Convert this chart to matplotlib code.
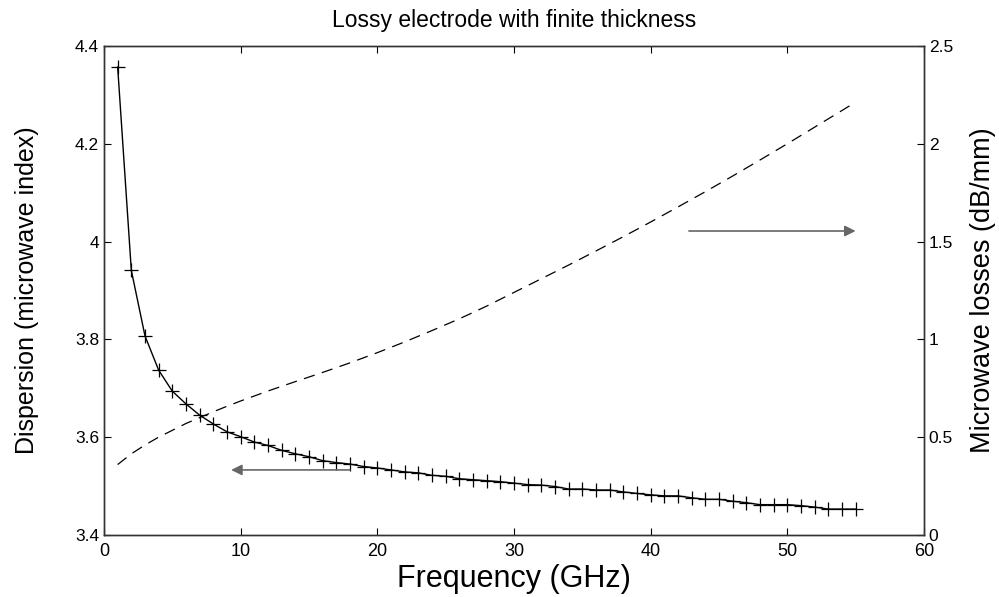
import numpy as np
import matplotlib
matplotlib.use('Agg')
import matplotlib.pyplot as plt
from matplotlib.ticker import FuncFormatter

plt.rcParams['font.family'] = ['Liberation Sans', 'DejaVu Sans']

# dispersion (microwave index), one point per GHz
freq = list(range(1, 56))
dispersion = [4.357, 3.941, 3.807, 3.737, 3.694, 3.668, 3.645, 3.627, 3.611, 3.601,
              3.590, 3.583, 3.573, 3.566, 3.560, 3.552, 3.548, 3.545, 3.540, 3.537,
              3.533, 3.529, 3.527, 3.522, 3.520, 3.515, 3.513, 3.511, 3.509, 3.506,
              3.503, 3.502, 3.499, 3.494, 3.494, 3.492, 3.492, 3.488, 3.485, 3.482,
              3.480, 3.480, 3.476, 3.473, 3.473, 3.469, 3.466, 3.462, 3.462, 3.462,
              3.460, 3.457, 3.453, 3.453, 3.453]

# microwave losses (dB/mm)
loss_freq = [1, 2, 3, 4, 5, 6, 7, 8, 9, 10, 12, 14, 16, 18, 20, 22, 24, 26, 28,
             30, 32, 34, 36, 38, 40, 42, 44, 46, 48, 50, 52, 54, 55]
losses = [0.36, 0.415, 0.46, 0.50, 0.535, 0.57, 0.60, 0.63, 0.658, 0.685, 0.736,
          0.784, 0.831, 0.88, 0.932, 0.987, 1.045, 1.105, 1.17, 1.24, 1.31, 1.38,
          1.452, 1.525, 1.60, 1.677, 1.755, 1.835, 1.917, 2.0, 2.085, 2.17, 2.213]

left_ticks = [3.4, 3.6, 3.8, 4.0, 4.2, 4.4]
right_ticks = [0, 0.5, 1, 1.5, 2, 2.5]
x_ticks = [0, 10, 20, 30, 40, 50, 60]

fig = plt.figure(figsize=(9.99, 5.97), dpi=100)
ax = fig.add_axes([0.1041, 0.1039, 0.8208, 0.8191])
ax2 = ax.twinx()

ax.plot(freq, dispersion, color='black', lw=1.0, marker='+', ms=10, mew=0.9)
ax2.plot(loss_freq, losses, color='black', lw=0.9, linestyle=(0, (9, 6)))

ax.set_xlim(0, 60)
ax.set_ylim(3.4, 4.4)
ax2.set_ylim(0, 2.5)
ax.set_xticks(x_ticks)
ax.set_yticks(left_ticks)
ax2.set_yticks(right_ticks)
fmt = FuncFormatter(lambda v, p: '%g' % v)
ax.yaxis.set_major_formatter(fmt)
ax2.yaxis.set_major_formatter(fmt)

ax.tick_params(axis='x', direction='in', top=True, length=5, labelsize=13, pad=6)
ax.tick_params(axis='y', direction='in', length=5, labelsize=12.5)
ax2.tick_params(axis='y', direction='in', length=5, labelsize=12.5)

for a in (ax, ax2):
    for s in a.spines.values():
        s.set_color('#333333')
        s.set_linewidth(1.0)

# arrows showing which axis each curve belongs to
ax.annotate('', xy=(9.1, 3.533), xytext=(18.2, 3.533),
            arrowprops=dict(arrowstyle='-|>', color='#666666', lw=1.2, mutation_scale=16))
ax2.annotate('', xy=(55.2, 1.554), xytext=(42.6, 1.554),
             arrowprops=dict(arrowstyle='-|>', color='#666666', lw=1.2, mutation_scale=16))

ax.set_title('Lossy electrode with finite thickness', fontsize=16.5, pad=14)
ax.set_xlabel('Frequency (GHz)', fontsize=22, labelpad=3)
ax.set_ylabel('Dispersion (microwave index)', fontsize=18, labelpad=26)
ax2.set_ylabel('Microwave losses (dB/mm)', fontsize=19.5, labelpad=12)

fig.savefig('out.png', dpi=100)
